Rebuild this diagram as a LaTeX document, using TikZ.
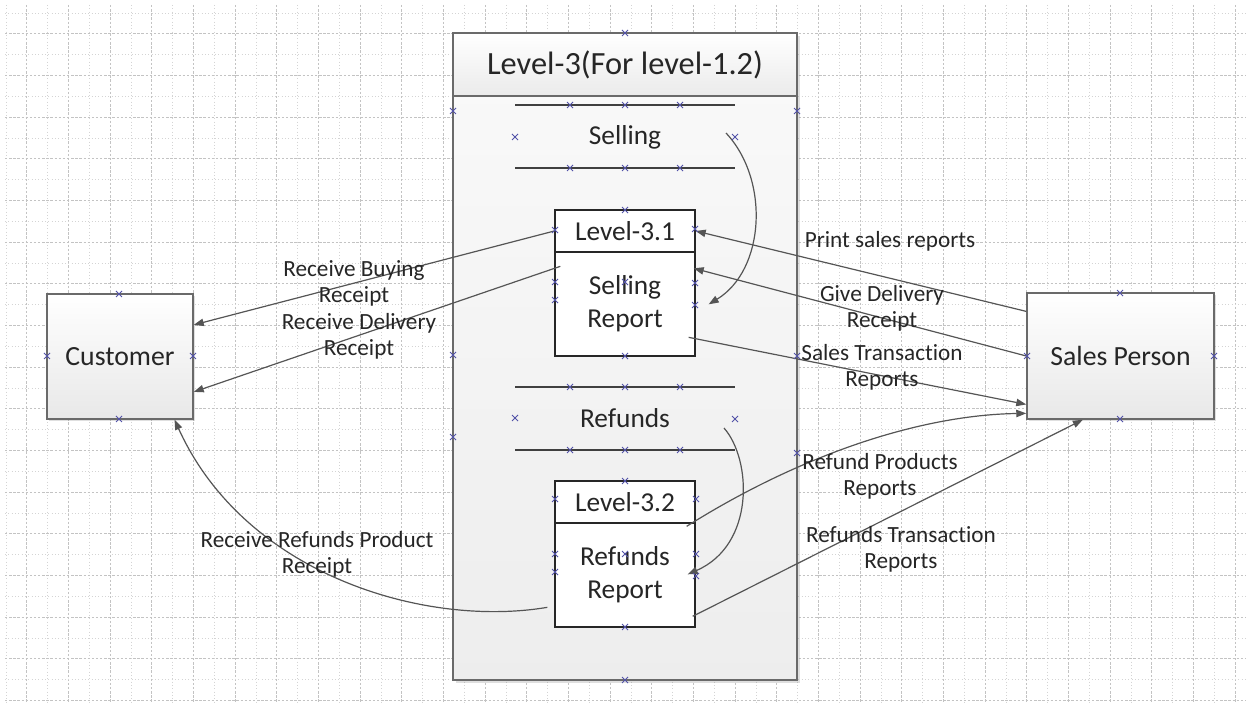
\documentclass[tikz,border=0pt]{standalone}
\usepackage{fontspec}
\setmainfont{Carlito}[Ligatures={NoCommon}]
\usetikzlibrary{arrows.meta,shadows,calc}

\definecolor{ink}{HTML}{262626}
\definecolor{wire}{HTML}{555555}
\definecolor{rim}{HTML}{6A6A6A}
\definecolor{gridc}{HTML}{D4D4D4}
\definecolor{cpblue}{HTML}{5252A8}

\tikzset{
  gridminor/.style={draw=gridc, line width=0.45pt, dash pattern=on 0.7pt off 1.8pt},
  gridmajor/.style={draw=gridc!92!black, line width=0.5pt, dash pattern=on 1.8pt off 1.3pt},
  entity/.style={draw=rim, line width=1.1pt, top color=white, bottom color=black!9,
    drop shadow={shadow xshift=1.5pt, shadow yshift=-1.5pt, opacity=0.25},
    text=ink, font=\fontsize{20.8pt}{25pt}\selectfont, inner sep=0pt},
  container/.style={draw=rim, line width=1.1pt, top color=black!2, bottom color=black!7,
    drop shadow={shadow xshift=2pt, shadow yshift=-2pt, opacity=0.25}, inner sep=0pt},
  conthead/.style={draw=rim, line width=1.1pt, top color=white, bottom color=black!8,
    text=ink, font=\fontsize{24.3pt}{29pt}\selectfont, inner sep=0pt},
  procbody/.style={draw=black!85, line width=1pt, fill=white, inner sep=0pt},
  prochead/.style={draw=black!85, line width=1pt, fill=white, text=ink,
    font=\fontsize{20.5pt}{24.75pt}\selectfont, inner sep=0pt},
  proctext/.style={text=ink, align=center, font=\fontsize{20.5pt}{24.75pt}\selectfont, inner sep=0pt},
  storetext/.style={text=ink, font=\fontsize{20.5pt}{24.75pt}\selectfont, inner sep=0pt},
  storeline/.style={draw=black!75, line width=0.9pt},
  flow/.style={draw=wire, line width=0.9pt, -{Triangle[length=7.5pt,width=5.5pt]}},
  flowlbl/.style={text=ink, align=center, font=\fontsize{17.4pt}{19.5pt}\selectfont, inner sep=0pt},
  cpmark/.style={draw=cpblue, line width=0.6pt},
  cp/.pic={\draw[cpmark] (-3,-3) -- (3,3) (-3,3) -- (3,-3);}
}

\begin{document}
\begin{tikzpicture}[x=0.75pt,y=-0.75pt]
\useasboundingbox (0,0) rectangle (1250,705);
\fill[white] (0,0) rectangle (1250,705);

% drawing-page grid
\foreach \k in {0,2,...,58} {\draw[gridminor] (5.9+20.833*\k,5) -- (5.9+20.833*\k,702);}
\foreach \k in {1,3,...,59} {\draw[gridmajor] (5.9+20.833*\k,5) -- (5.9+20.833*\k,702);}
\foreach \k in {0,2,...,32} {\draw[gridminor] (5,13+20.833*\k) -- (1246,13+20.833*\k);}
\foreach \k in {1,3,...,33} {\draw[gridmajor] (5,13+20.833*\k) -- (1246,13+20.833*\k);}

% level-3 container
\node[container, minimum width=258pt, minimum height=485.25pt] (cont) at (625,356.5) {};
\node[conthead, minimum width=258pt, minimum height=47.25pt] (contHead) at (625,64.5) {Level-3(For level-1.2)};

% data stores
\node[storetext] (sell) at (625,137) {Selling};
\draw[storeline] ($(sell.center)+(-110,-32)$) -- ++(220,0);
\draw[storeline] ($(sell.center)+(-110,31)$) -- ++(220,0);
\node[storetext] (refund) at (625,418) {Refunds};
\draw[storeline] ($(refund.center)+(-110,-31)$) -- ++(220,0);
\draw[storeline] ($(refund.center)+(-110,32)$) -- ++(220,0);

% processes
\node[procbody, minimum width=105pt, minimum height=109.5pt] (p31) at (625,283) {};
\node[prochead, minimum width=105pt, minimum height=31.5pt] (p31head) at (625,231) {Level-3.1};
\node[proctext] (p31text) at (625,304) {Selling\\Report};
\node[procbody, minimum width=105pt, minimum height=109.5pt] (p32) at (625,554) {};
\node[prochead, minimum width=105pt, minimum height=31.5pt] (p32head) at (625,502) {Level-3.2};
\node[proctext] (p32text) at (625,575) {Refunds\\Report};

% external entities
\node[entity, minimum width=109.5pt, minimum height=93.75pt] (cust) at (120,356.5) {Customer};
\node[entity, minimum width=140.25pt, minimum height=94.5pt] (sales) at (1120.5,356) {Sales Person};

% data flows
\draw[flow] (p31head.west) -- ($(cust.north east)!0.25!(cust.south east)$);
\draw[flow] ($(p31.north west)+(6,57)$) -- ($(cust.north east)!0.78!(cust.south east)$);
\draw[flow] ($(sales.north west)!0.15!(sales.south west)$) -- (p31head.east);
\draw[flow] (sales.west) -- ($(p31.north east)+(-2,59)$);
\draw[flow] ($(p31.north east)+(-7,128)$) -- ($(sales.north west)!0.88!(sales.south west)$);
\draw[flow] ($(sell.center)+(101,-4)$) .. controls (770,180) and (765,270) .. ($(p31.north east)+(13,95)$);
\draw[flow] ($(refund.center)+(99,10)$) .. controls (752,460) and (755,545) .. ($(p32.north east)+(-8,94)$);
\draw[flow] ($(p32.north east)+(-9,46)$) .. controls (800,455) and (920,415) .. ($(sales.north west)!0.95!(sales.south west)$);
\draw[flow] ($(p32.north east)+(-3,136)$) -- ($(sales.south west)!0.3!(sales.south east)$);
\draw[flow] ($(p32.north west)+(-7,127)$) .. controls (425,628) and (245,575) .. ($(cust.south west)!0.87!(cust.south east)$);

% flow labels
\node[flowlbl] (lBuy) at (354,283) {Receive Buying\\Receipt};
\node[flowlbl] (lDel) at (359,336) {Receive Delivery\\Receipt};
\node[flowlbl] (lPrint) at (890,241) {Print sales reports};
\node[flowlbl] (lGive) at (882,308) {Give Delivery\\Receipt};
\node[flowlbl] (lSales) at (882,367) {Sales Transaction\\Reports};
\node[flowlbl] (lRefP) at (880,476) {Refund Products\\Reports};
\node[flowlbl] (lRefT) at (901,549) {Refunds Transaction\\Reports};
\node[flowlbl] (lRefR) at (317,554) {Receive Refunds Product\\Receipt};

% connection points
\foreach \p in {(625,33),(453,111),(797,111),(453,355),(797,356),(453,437),(797,453),(625,680),
  (570,105),(625,105),(680,105),(570,168),(625,168),(680,168),(515,137),(735,137),
  (570,387),(625,387),(680,387),(570,450),(625,450),(680,450),(515,418),(735,419),
  (625,210),(555,230),(695,229),(555,282),(555,300),(695,283),(695,305),(625,282),(625,356),
  (625,481),(555,499),(696,499),(555,554),(555,572),(696,554),(696,576),(625,554),(625,627),
  (119,294),(47,356),(193,356),(119,419),
  (1120,293),(1027,356),(1214,356),(1120,419)}
  {\pic at \p {cp};}
\end{tikzpicture}
\end{document}
